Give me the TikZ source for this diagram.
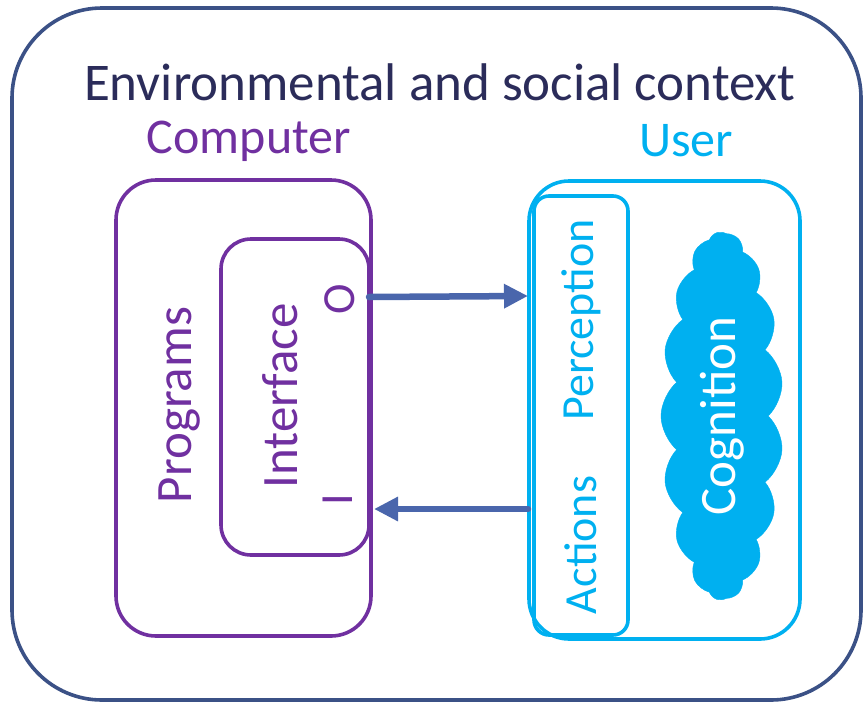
\documentclass[tikz,border=0pt]{standalone}
\usepackage{fontspec}
\setmainfont{Carlito}
\usetikzlibrary{shapes.symbols,arrows.meta,calc}
\definecolor{cpurple}{HTML}{7030A0}
\definecolor{ccyan}{HTML}{00B0F0}
\definecolor{cframe}{HTML}{3B5186}
\definecolor{ctitle}{HTML}{2B2C5A}
\definecolor{carrow}{HTML}{4A66AC}
\newcommand{\fs}[1]{\fontsize{#1}{#1}\selectfont}
\begin{document}
\begin{tikzpicture}[x=1pt,y=-1pt,
  box/.style={draw,line width=3.6pt,rounded corners=#1},
  vlabel/.style={rotate=90,inner sep=0pt,anchor=center},
  flow/.style={carrow,line width=6.5pt,line cap=round,-{Triangle[length=24pt,width=23pt,line cap=butt]}}]
\useasboundingbox (0,0) rectangle (864,707);
% outer context
\draw[box=90pt,cframe] (12,8) rectangle (861,700);
\node[ctitle,font=\fs{53}] (title) at (440,82) {Environmental and social context};
% computer
\node[cpurple,font=\fs{50}] (comp) at (249,141) {Computer};
\draw[box=40pt,cpurple] (116,180) rectangle (371,636);
\draw[box=30pt,cpurple,fill=white] (221,239) rectangle (369,555);
\coordinate (iface) at (369,297);
\coordinate (ifaceI) at (369,509);
\node[vlabel,cpurple,font=\fs{51}] (prog) at (180,405) {Programs};
\node[vlabel,cpurple,font=\fs{51}] (intf) at (280,396) {Interface};
\node[vlabel,cpurple,font=\fs{46}] (outp) at (340,299) {O};
\node[vlabel,cpurple,font=\fs{46}] (inp) at (338,500) {I};
% user
\node[ccyan,font=\fs{50}] (user) at (686,141) {User};
\draw[box=40pt,ccyan] (529,181) rectangle (800,639);
\draw[box=15pt,ccyan] (534,196) rectangle (628,635);
\coordinate (perc) at (528,296);
\coordinate (act) at (528,509);
\node[vlabel,ccyan,font=\fs{46}] (percl) at (581,320) {Perception};
\node[vlabel,ccyan,font=\fs{46}] (actl) at (581,545) {Actions};
\node[cloud,cloud puffs=17,cloud puff arc=100,cloud ignores aspect,rotate=90,
      fill=ccyan,draw=ccyan,minimum width=368pt,minimum height=122pt,inner sep=0pt,
      text=white,font=\fs{51}] (cog) at (722,416) {Cognition};
% arrows
\draw[flow] (iface) -- (perc);
\draw[flow] (act) -- ($(ifaceI)+(5,0)$);
\end{tikzpicture}
\end{document}
